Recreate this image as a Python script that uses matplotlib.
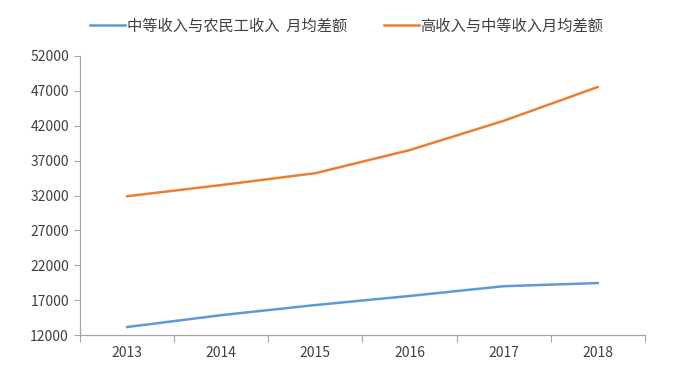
import matplotlib
matplotlib.use('Agg')
import matplotlib.pyplot as plt
import numpy as np

plt.rcParams['font.family'] = ['Noto Sans CJK SC', 'DejaVu Sans']

years = ['2013', '2014', '2015', '2016', '2017', '2018']
mid_vs_farmer = [13150, 14850, 16300, 17600, 19000, 19450]
high_vs_mid = [31900, 33500, 35200, 38500, 42700, 47550]
yticks = [12000, 17000, 22000, 27000, 32000, 37000, 42000, 47000, 52000]

label_blue = '中等收入与农民工收入  月均差额'
label_orange = '高收入与中等收入月均差额'


def main():
    fig = plt.figure(figsize=(6.73, 3.86), dpi=100)
    ax = fig.add_axes([0.119, 0.132, 0.839, 0.723])

    x = np.arange(len(years))
    ax.plot(x, mid_vs_farmer, color='#5B9BD5', lw=1.8, label=label_blue)
    ax.plot(x, high_vs_mid, color='#ED7D31', lw=1.8, label=label_orange)

    ax.set_xlim(-0.5, len(years) - 0.5)
    ax.set_ylim(12000, 52000)
    ax.set_yticks(yticks)
    ax.set_yticklabels([str(v) for v in yticks])

    # category boundaries as major ticks, labels centred on minor ticks
    ax.set_xticks(np.arange(-0.5, len(years), 1.0))
    ax.set_xticklabels([])
    ax.set_xticks(x, minor=True)
    ax.set_xticklabels(years, minor=True)
    ax.tick_params(axis='x', which='major', length=5, color='#A6A6A6', direction='out')
    ax.tick_params(axis='x', which='minor', length=0, pad=8, labelsize=10, labelcolor='#404040')
    ax.tick_params(axis='y', length=4, color='#A6A6A6', direction='out', pad=4,
                   labelsize=10, labelcolor='#404040')

    for side in ['top', 'right']:
        ax.spines[side].set_visible(False)
    for side in ['left', 'bottom']:
        ax.spines[side].set_color('#A6A6A6')
        ax.spines[side].set_linewidth(0.9)

    fig.legend(loc='upper center', bbox_to_anchor=(0.515, 0.99), ncol=2, frameon=False,
               fontsize=11, handlelength=2.3, handletextpad=0.1, columnspacing=2.4,
               labelcolor='#404040')

    fig.savefig('out.png', dpi=100, facecolor='w')
    plt.close('all')


if __name__ == '__main__':
    main()
